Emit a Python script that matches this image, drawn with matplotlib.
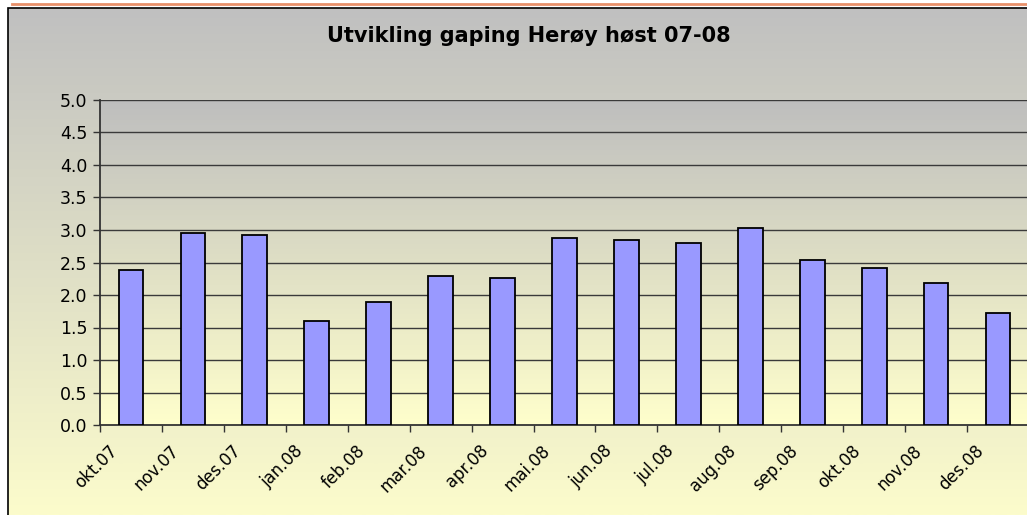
import numpy as np
import matplotlib
matplotlib.use("Agg")
import matplotlib.pyplot as plt
from matplotlib.patches import Rectangle
from matplotlib.transforms import ScaledTranslation

# data
months = ['okt.07', 'nov.07', 'des.07', 'jan.08', 'feb.08', 'mar.08', 'apr.08',
          'mai.08', 'jun.08', 'jul.08', 'aug.08', 'sep.08', 'okt.08', 'nov.08', 'des.08']
gaping = [2.38, 2.96, 2.92, 1.60, 1.89, 2.30, 2.26,
          2.88, 2.85, 2.80, 3.03, 2.54, 2.42, 2.18, 1.73]
yticks = [0.0, 0.5, 1.0, 1.5, 2.0, 2.5, 3.0, 3.5, 4.0, 4.5, 5.0]
title = 'Utvikling gaping Herøy høst 07-08'

W, H = 1027, 515
plt.rcParams['font.family'] = ['DejaVu Sans']


def gradient(ax, top, bottom, extent):
    t = np.linspace(0, 1, 256)[:, None]
    top = np.array(top) / 255.0
    bottom = np.array(bottom) / 255.0
    img = top[None, None, :] * (1 - t[:, :, None]) + bottom[None, None, :] * t[:, :, None]
    ax.imshow(img, aspect='auto', extent=extent, origin='upper', zorder=0)


def main():
    fig = plt.figure(figsize=(W / 100, H / 100), dpi=100)
    fig.patch.set_facecolor('white')

    # chart area background + border
    bg = fig.add_axes([8 / W, 0, 1 - 8 / W, (H - 8) / H])
    gradient(bg, (192, 192, 192), (252, 252, 204), (0, 1, 0, 1))
    bg.set_xlim(0, 1)
    bg.set_ylim(0, 1)
    bg.axis('off')
    fig.patches.append(Rectangle((8 / W, -0.01), 1.02, (H - 8) / H + 0.01,
                                 transform=fig.transFigure, fill=False,
                                 edgecolor='black', linewidth=1.2, zorder=5))
    fig.lines.append(plt.Line2D([12 / W, 1], [1 - 4 / H, 1 - 4 / H],
                                transform=fig.transFigure, color='#E8906A',
                                linewidth=2))

    fig.text(529 / W, 1 - 36 / H, title, ha='center', va='center',
             fontsize=15, fontweight='bold')

    # plot area
    left, right, top, bottom = 100, 1029, 100, 425
    ax = fig.add_axes([left / W, (H - bottom) / H, (right - left) / W, (bottom - top) / H])
    n = len(months)
    ax.set_xlim(-0.5, n - 0.5)
    ax.set_ylim(0, 5)
    gradient(ax, (190, 190, 190), (255, 255, 204), (-0.5, n - 0.5, 0, 5))

    x = np.arange(n)
    ax.bar(x, gaping, width=0.4, color='#9999FF', edgecolor='black',
           linewidth=1.3, zorder=3)

    ax.set_yticks(yticks)
    ax.set_yticklabels([f'{v:.1f}' for v in yticks], fontsize=12.5)
    for v in yticks[1:]:
        ax.axhline(v, color='#3a3a3a', linewidth=1.0, zorder=1)

    ax.set_xticks(np.arange(n + 1) - 0.5)
    ax.set_xticklabels([])
    ax.set_xticks(x, minor=True)
    ax.set_xticklabels(months, minor=True, rotation=45, ha='right',
                       rotation_mode='anchor', fontsize=12)
    ax.tick_params(axis='x', which='minor', length=0, pad=12)
    ax.tick_params(axis='both', which='major', length=5, width=1, color='#333333',
                   direction='out')
    ax.tick_params(axis='y', pad=4)
    off = ScaledTranslation(-23 / 100, 0, fig.dpi_scale_trans)
    for lab in ax.get_xticklabels(minor=True):
        lab.set_transform(lab.get_transform() + off)

    for side in ['top', 'right']:
        ax.spines[side].set_visible(False)
    ax.spines['left'].set_color('#333333')
    ax.spines['bottom'].set_color('#333333')
    ax.spines['left'].set_linewidth(1.3)
    ax.spines['bottom'].set_linewidth(1.3)
    ax.set_clip_on(False)

    fig.savefig('out.png', dpi=100)
    plt.close(fig)


if __name__ == '__main__':
    main()
